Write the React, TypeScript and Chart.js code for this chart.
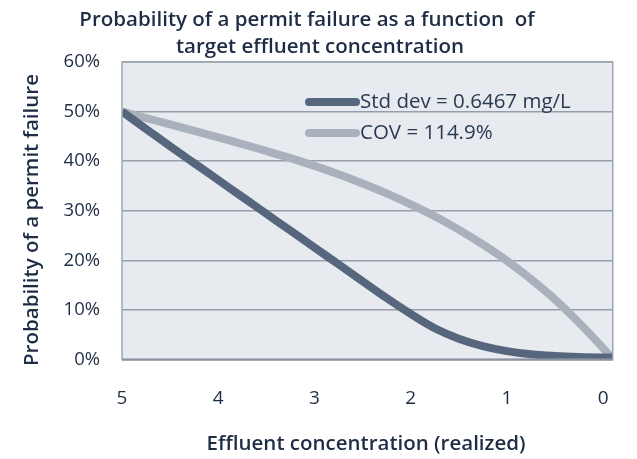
import React, { useEffect, useRef } from 'react';
import { Chart, registerables } from 'chart.js';

Chart.register(...registerables);

// Effluent concentration (realized), read along the reversed x axis
const concentrations = [5, 4.75, 4.5, 4.25, 4, 3.75, 3.5, 3.25, 3, 2.75, 2.5, 2.25, 2, 1.75, 1.5, 1.25, 1, 0.75, 0.5, 0.25, 0, -0.1];
// Probability of a permit failure (%)
const stdDevSeries = [50, 46.5, 43.0, 39.6, 36.2, 32.8, 29.4, 26.0, 22.6, 19.2, 15.8, 12.4, 9.2, 6.3, 4.2, 2.7, 1.7, 1.05, 0.7, 0.5, 0.4, 0.4];
const covSeries = [50, 48.7, 47.4, 46.1, 44.8, 43.45, 42.05, 40.6, 39.05, 37.35, 35.5, 33.5, 31.3, 28.9, 26.2, 23.2, 19.9, 16.2, 12.1, 7.4, 2.3, 0];

const seriesLabels = ['Std dev = 0.6467 mg/L', 'COV = 114.9%'];
const seriesColors = ['#56667d', '#a9b1bc'];
const xTickValues = [5, 4, 3, 2, 1, 0];
const yTickValues = [0, 10, 20, 30, 40, 50, 60];
const titleLines = ['Probability of a permit failure as a function  of', 'target effluent concentration'];
const xAxisTitle = 'Effluent concentration (realized)';
const yAxisTitle = 'Probability of a permit failure';

const TEXT = '#1e2d45';
const FONT = '"Open Sans", "DejaVu Sans", sans-serif';

export default function App() {
  const ref = useRef<HTMLCanvasElement | null>(null);

  useEffect(() => {
    document.body.style.margin = '0';
    const canvas = ref.current;
    if (!canvas) return;

    const decor = {
      id: 'decor',
      beforeDraw(chart: any) {
        const { ctx, chartArea: a } = chart;
        ctx.save();
        ctx.fillStyle = '#ffffff';
        ctx.fillRect(0, 0, chart.width, chart.height);
        ctx.fillStyle = '#e7eaee';
        ctx.fillRect(a.left, a.top, a.right - a.left, a.bottom - a.top);
        ctx.restore();
      },
      afterDraw(chart: any) {
        const { ctx, chartArea: a } = chart;
        ctx.save();
        // plot border
        ctx.strokeStyle = '#9ea6b1';
        ctx.lineWidth = 1.5;
        ctx.strokeRect(a.left, a.top, a.right - a.left, a.bottom - a.top);
        ctx.strokeStyle = '#8a94a1';
        ctx.lineWidth = 2;
        ctx.beginPath();
        ctx.moveTo(a.left, a.bottom);
        ctx.lineTo(a.right, a.bottom);
        ctx.stroke();

        // title
        ctx.fillStyle = TEXT;
        ctx.textAlign = 'center';
        ctx.textBaseline = 'alphabetic';
        ctx.font = `600 20.5px ${FONT}`;
        ctx.fillText(titleLines[0], 307, 26);
        ctx.fillText(titleLines[1], 320, 53);

        // x axis title
        ctx.font = `600 20.5px ${FONT}`;
        ctx.fillText(xAxisTitle, 366, 450);

        // y axis title
        ctx.save();
        ctx.translate(38, 220);
        ctx.rotate(-Math.PI / 2);
        ctx.textBaseline = 'alphabetic';
        ctx.font = `600 20.5px ${FONT}`;
        ctx.fillText(yAxisTitle, 0, 0);
        ctx.restore();

        // legend
        chart.data.datasets.forEach((ds: any, i: number) => {
          const y = 102 + i * 31;
          ctx.strokeStyle = ds.borderColor;
          ctx.lineWidth = 8;
          ctx.lineCap = 'round';
          ctx.beginPath();
          ctx.moveTo(309, y);
          ctx.lineTo(356, y);
          ctx.stroke();
          ctx.fillStyle = '#2a3a52';
          ctx.textAlign = 'left';
          ctx.textBaseline = 'middle';
          ctx.font = `20.5px ${FONT}`;
          ctx.fillText(ds.label, 360, y);
        });
        ctx.restore();
      },
    };

    const chart = new Chart(canvas, {
      type: 'line',
      data: {
        datasets: [stdDevSeries, covSeries].map((vals, i) => ({
          label: seriesLabels[i],
          data: vals.map((v, j) => ({ x: concentrations[j], y: v })),
          borderColor: seriesColors[i],
          borderWidth: 8,
          pointRadius: 0,
          tension: 0.4,
          fill: false,
        })),
      },
      options: {
        animation: false,
        responsive: false,
        devicePixelRatio: 1,
        layout: { padding: { top: 62, right: 23, left: 0, bottom: 0 } },
        plugins: {
          legend: { display: false },
          title: { display: false },
          tooltip: { enabled: false },
        },
        scales: {
          x: {
            type: 'linear',
            reverse: true,
            min: -0.1,
            max: 5,
            afterBuildTicks(scale: any) {
              scale.ticks = xTickValues.map((v) => ({ value: v }));
            },
            afterFit(scale: any) {
              scale.height = 99.5;
            },
            grid: { display: false, drawTicks: false },
            border: { display: false },
            ticks: {
              padding: 28,
              color: TEXT,
              font: { family: FONT, size: 19 },
              callback: (v: any) => String(v),
            },
          },
          y: {
            min: 0,
            max: 60,
            afterBuildTicks(scale: any) {
              scale.ticks = yTickValues.map((v) => ({ value: v }));
            },
            afterFit(scale: any) {
              scale.width = 122;
            },
            grid: { color: '#959eaa', lineWidth: 1.5, drawTicks: false },
            border: { display: false },
            ticks: {
              padding: 22,
              color: TEXT,
              font: { family: FONT, size: 18.5 },
              callback: (v: any) => `${v}%`,
            },
          },
        },
      },
      plugins: [decor],
    });

    return () => chart.destroy();
  }, []);

  return <canvas ref={ref} width={637} height={459} style={{ display: 'block' }} />;
}
